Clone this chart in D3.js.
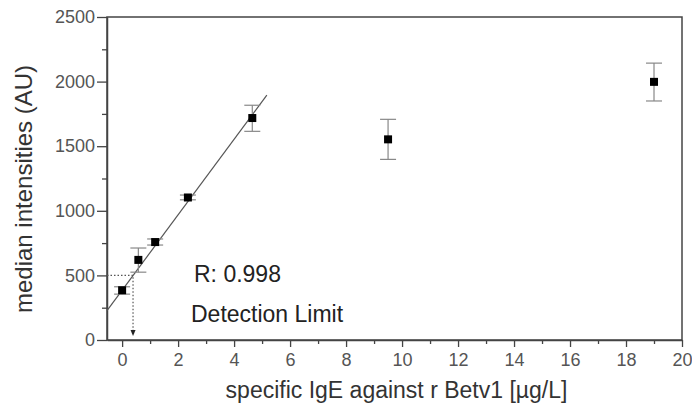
<!DOCTYPE html>
<html>
<head>
<meta charset="utf-8">
<script src="https://cdn.jsdelivr.net/npm/d3@7"></script>
<style>
  body { margin: 0; background: #fff; }
  svg text { font-family: "Liberation Sans", Arial, sans-serif; }
</style>
</head>
<body>
<div class="chart"></div>
<script>
var svgWidth = 692;
var svgHeight = 409;

var margin = { top: 17, right: 10, bottom: 69, left: 107 };
var width = svgWidth - margin.left - margin.right;
var height = svgHeight - margin.top - margin.bottom;

// data
var conc = [0, 0.58, 1.18, 2.35, 4.65, 9.5, 19];
var intensity = [385, 620, 758, 1103, 1718, 1553, 1998];
var errLow = [355, 525, 735, 1085, 1615, 1398, 1850];
var errHigh = [412, 712, 782, 1122, 1817, 1708, 2143];

// regression line y = a + b*x, drawn from the axis to x = 5.17
var fitIntercept = 385;
var fitSlope = 292;
var fitRange = [-0.54, 5.17];

var detectionY = 500;
var detectionX = 0.39;

var xTicks = [0, 2, 4, 6, 8, 10, 12, 14, 16, 18, 20];
var yTicks = [0, 500, 1000, 1500, 2000, 2500];

var svg = d3.select(".chart")
  .append("svg")
  .attr("width", svgWidth)
  .attr("height", svgHeight);

var chart = svg.append("g")
  .attr("transform", "translate(" + margin.left + "," + margin.top + ")");

var xScale = d3.scaleLinear().domain([-0.54, 20]).range([0, width]);
var yScale = d3.scaleLinear().domain([0, 2500]).range([height, 0]);

var axisColor = "#444";
var labelColor = "#555";

// frame (top + right)
chart.append("rect")
  .attr("x", 0).attr("y", 0)
  .attr("width", width).attr("height", height)
  .attr("fill", "none")
  .attr("stroke", axisColor)
  .attr("stroke-width", 1.5);

// minor ticks
chart.append("g")
  .attr("transform", "translate(0," + height + ")")
  .call(d3.axisBottom(xScale).tickValues(d3.range(1, 20, 2)).tickSize(4).tickFormat(""))
  .call(function(g) { g.select(".domain").remove(); })
  .selectAll("line").attr("stroke", axisColor).attr("stroke-width", 1.3);

chart.append("g")
  .call(d3.axisLeft(yScale).tickValues(d3.range(250, 2500, 500)).tickSize(5).tickFormat(""))
  .call(function(g) { g.select(".domain").remove(); })
  .selectAll("line").attr("stroke", axisColor).attr("stroke-width", 1.3);

// major axes
var xAxis = chart.append("g")
  .attr("transform", "translate(0," + height + ")")
  .call(d3.axisBottom(xScale).tickValues(xTicks).tickFormat(d3.format("d"))
    .tickSize(7).tickPadding(6).tickSizeOuter(0));

var yAxis = chart.append("g")
  .call(d3.axisLeft(yScale).tickValues(yTicks).tickFormat(d3.format("d"))
    .tickSize(10).tickPadding(2).tickSizeOuter(0));

[xAxis, yAxis].forEach(function(ax) {
  ax.select(".domain").attr("stroke", axisColor).attr("stroke-width", 1.5);
  ax.selectAll(".tick line").attr("stroke", axisColor).attr("stroke-width", 1.3);
  ax.selectAll(".tick text")
    .attr("fill", labelColor)
    .style("font-size", "18px");
});

// axis titles
chart.append("text")
  .attr("transform", "rotate(-90)")
  .attr("x", -172)
  .attr("y", -75)
  .attr("text-anchor", "middle")
  .attr("fill", "#333")
  .style("font-size", "24px")
  .text("median intensities (AU)");

chart.append("text")
  .attr("x", width / 2 + 2)
  .attr("y", height + 58)
  .attr("text-anchor", "middle")
  .attr("fill", "#333")
  .style("font-size", "23px")
  .text("specific IgE against r Betv1 [\u00b5g/L]");

// regression line
chart.append("line")
  .attr("x1", xScale(fitRange[0]))
  .attr("y1", yScale(fitIntercept + fitSlope * fitRange[0]))
  .attr("x2", xScale(fitRange[1]))
  .attr("y2", yScale(fitIntercept + fitSlope * fitRange[1]))
  .attr("stroke", "#555")
  .attr("stroke-width", 1.2);

// detection limit guides
chart.append("path")
  .attr("d", "M" + xScale(fitRange[0]) + "," + yScale(detectionY) +
    "H" + xScale(detectionX) + "V" + (yScale(0) - 9))
  .attr("fill", "none")
  .attr("stroke", "#555")
  .attr("stroke-width", 1.2)
  .attr("stroke-dasharray", "1.5,2");

chart.append("path")
  .attr("d", "M" + (xScale(detectionX) - 2.5) + "," + (yScale(0) - 10) +
    "L" + (xScale(detectionX) + 2.5) + "," + (yScale(0) - 10) +
    "L" + xScale(detectionX) + "," + (yScale(0) - 4) + "Z")
  .attr("fill", "#222");

// error bars
var pts = conc.map(function(x, i) {
  return { x: x, y: intensity[i], lo: errLow[i], hi: errHigh[i] };
});

var cap = 8;
var bars = chart.selectAll(".err").data(pts).enter().append("g")
  .attr("class", "err")
  .attr("stroke", "#888")
  .attr("stroke-width", 1.2);

bars.append("line")
  .attr("x1", function(d) { return xScale(d.x); })
  .attr("x2", function(d) { return xScale(d.x); })
  .attr("y1", function(d) { return yScale(d.lo); })
  .attr("y2", function(d) { return yScale(d.hi); });

["lo", "hi"].forEach(function(k) {
  bars.append("line")
    .attr("x1", function(d) { return xScale(d.x) - cap; })
    .attr("x2", function(d) { return xScale(d.x) + cap; })
    .attr("y1", function(d) { return yScale(d[k]); })
    .attr("y2", function(d) { return yScale(d[k]); });
});

// markers
chart.selectAll(".pt").data(pts).enter().append("rect")
  .attr("class", "pt")
  .attr("x", function(d) { return xScale(d.x) - 4; })
  .attr("y", function(d) { return yScale(d.y) - 4; })
  .attr("width", 8)
  .attr("height", 8)
  .attr("fill", "#000");

// annotations
chart.append("text")
  .attr("x", 87)
  .attr("y", 264.5)
  .attr("fill", "#222")
  .style("font-size", "23px")
  .text("R: 0.998");

chart.append("text")
  .attr("x", 84)
  .attr("y", 304.5)
  .attr("fill", "#222")
  .style("font-size", "23px")
  .text("Detection Limit");
</script>
</body>
</html>
